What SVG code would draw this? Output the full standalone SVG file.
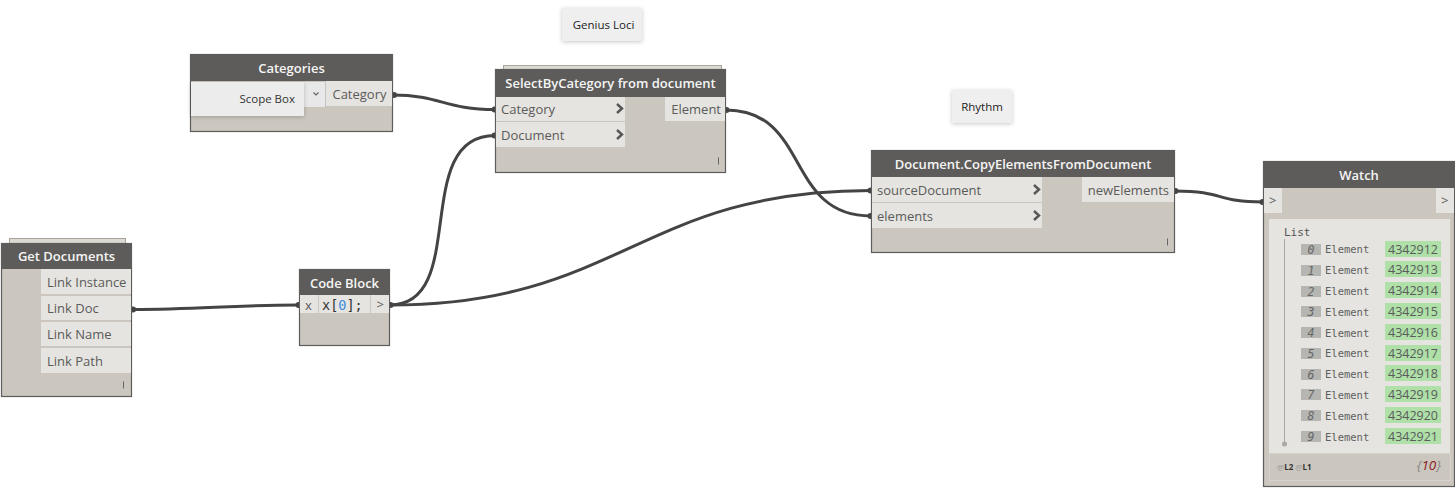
<svg xmlns="http://www.w3.org/2000/svg" width="1455" height="491" viewBox="0 0 1455 491">
<style>
text{font-family:"Open Sans","Liberation Sans",sans-serif}
.body{fill:#cbc6be;stroke:#5e5c5a;stroke-width:1.2}
.stack{fill:#dcd9d3;stroke:#a9a59e;stroke-width:1}
.head{fill:#5e5c5a}
.title{fill:#f5f5f5;font-size:13px;font-weight:600;text-anchor:middle}
.port{fill:#e5e4e0}
.lbl{fill:#5b5b5b;font-size:13px}
.end{text-anchor:end}
.chev{fill:none;stroke:#555;stroke-width:2.4}
.wire{fill:none;stroke:#444;stroke-width:3}
.dot{fill:#444}
.mono{font-family:"DejaVu Sans Mono","Liberation Mono",monospace}
.note{fill:#efefef;filter:url(#sh)}
.idx{fill:#b5b5b1}
.idxt{fill:#666;font-size:11.500px;font-style:italic;text-anchor:middle}
.el{fill:#5f5f5f;font-size:10.500px}
.grn{fill:#aee0a8}
.num{fill:#5b5b5b;font-size:12.500px;text-anchor:middle}
</style>
<defs>
<filter id="sh" x="-20%" y="-20%" width="140%" height="150%"><feDropShadow dx="0" dy="1" stdDeviation="2" flood-color="#000" flood-opacity="0.22"/></filter>
</defs>
<g id="connectors">
<path class="wire" d="M393 95C440 95 445 109.500 495 109.500"/>
<path class="wire" d="M390 305C470 305 410 135.500 495 135.500"/>
<path class="wire" d="M132 309.500C200 309.500 230 305 298 305"/>
<path class="wire" d="M390 305C620 305 640 190.500 871 190.500"/>
<path class="wire" d="M726 110C810 110 785 216 871 216"/>
<path class="wire" d="M1175 191C1225 191 1215 202 1263 202"/>
<circle class="dot" cx="394" cy="95" r="3"/><circle class="dot" cx="494.500" cy="109.500" r="3"/><circle class="dot" cx="494.500" cy="135.500" r="3"/>
<circle class="dot" cx="726.500" cy="110" r="3"/><circle class="dot" cx="133" cy="309.500" r="3"/><circle class="dot" cx="298.500" cy="305" r="3"/>
<circle class="dot" cx="390.500" cy="305" r="3"/><circle class="dot" cx="870.500" cy="190.500" r="3"/><circle class="dot" cx="870.500" cy="216" r="3"/>
<circle class="dot" cx="1175.500" cy="191" r="3"/><circle class="dot" cx="1262.500" cy="202" r="3"/>
</g>
<g id="note-genius-loci"><rect class="note" x="562" y="8" width="80" height="33"/><text x="603.500" y="29" font-size="11.500" fill="#222" text-anchor="middle">Genius Loci</text></g>
<g id="note-rhythm"><rect class="note" x="952" y="90" width="60" height="33"/><text x="982" y="111" font-size="11.500" fill="#222" text-anchor="middle">Rhythm</text></g>
<g id="node-categories">
<rect class="body" x="190.500" y="54.500" width="202" height="77"/>
<rect class="head" x="190" y="54" width="203" height="27"/>
<text class="title" x="291.500" y="73">Categories</text>
<rect x="304" y="82" width="21" height="25" fill="#e8e8e8"/>
<rect x="325" y="81" width="1" height="26" fill="#c4c4c4"/>
<path d="M313.500 92.500l2.500 2.500 2.500-2.500" fill="none" stroke="#666" stroke-width="1.200"/>
<rect class="port" x="326" y="81" width="66" height="25"/>
<text class="lbl end" x="386.500" y="99">Category</text>
<rect x="191" y="82" width="113" height="34" fill="#ececec" filter="url(#sh)"/>
<text x="295" y="103" font-size="11.500" fill="#333" text-anchor="end">Scope Box</text>
</g>
<g id="node-selectbycategory">
<rect class="stack" x="503.500" y="65.500" width="218" height="6"/>
<rect class="body" x="495.500" y="69.500" width="230" height="103"/>
<rect class="head" x="495" y="69" width="231" height="28"/>
<text class="title" x="610.500" y="88">SelectByCategory from document</text>
<rect class="port" x="496" y="97" width="129" height="24"/>
<rect class="port" x="496" y="122" width="129" height="25"/>
<rect class="port" x="665" y="97" width="60" height="24"/>
<text class="lbl" x="501" y="114">Category</text>
<text class="lbl" x="501" y="140">Document</text>
<text class="lbl end" x="721" y="114">Element</text>
<path class="chev" d="M617 104l5 4.500-5 4.500M617 130l5 4.500-5 4.500"/>
<rect x="718" y="157.500" width="1" height="7" fill="#666"/>
</g>
<g id="node-get-documents">
<rect class="stack" x="9.500" y="238.500" width="116" height="6"/>
<rect class="body" x="1.500" y="243.500" width="130" height="153"/>
<rect class="head" x="1" y="243" width="131" height="26"/>
<text class="title" x="66.500" y="261">Get Documents</text>
<rect class="port" x="41" y="269" width="90" height="25"/>
<rect class="port" x="41" y="296" width="90" height="24"/>
<rect class="port" x="41" y="322" width="90" height="24"/>
<rect class="port" x="41" y="348" width="90" height="25"/>
<text class="lbl" x="47" y="287">Link Instance</text>
<text class="lbl" x="47" y="313">Link Doc</text>
<text class="lbl" x="47" y="339">Link Name</text>
<text class="lbl" x="47" y="366">Link Path</text>
<rect x="123" y="381.500" width="1" height="7" fill="#666"/>
</g>
<g id="node-code-block">
<rect class="body" x="299.500" y="269.500" width="90" height="76"/>
<rect class="head" x="299" y="269" width="91" height="26"/>
<text class="title" x="344.500" y="288">Code Block</text>
<rect class="port" x="300" y="295" width="18" height="18"/>
<rect class="port" x="319" y="295" width="51" height="18"/>
<rect class="port" x="371" y="295" width="18" height="18"/>
<text class="lbl" x="305" y="310" font-size="12">x</text>
<text class="mono" x="322" y="310" font-size="13.500" fill="#333">x[<tspan fill="#3c8ce0">0</tspan>];</text>
<text class="lbl" x="376.500" y="309" font-size="11">&gt;</text>
</g>
<g id="node-copy-elements">
<rect class="body" x="871.500" y="150.500" width="303" height="102"/>
<rect class="head" x="871" y="150" width="304" height="27"/>
<text class="title" x="1023" y="169">Document.CopyElementsFromDocument</text>
<rect class="port" x="872" y="177" width="170" height="25"/>
<rect class="port" x="872" y="203" width="170" height="25"/>
<rect class="port" x="1082" y="177" width="92" height="25"/>
<text class="lbl" x="877" y="195">sourceDocument</text>
<text class="lbl" x="877" y="221">elements</text>
<text class="lbl end" x="1169" y="195">newElements</text>
<path class="chev" d="M1034 185l5 4.500-5 4.500M1034 211l5 4.500-5 4.500"/>
<rect x="1167" y="238.500" width="1" height="7" fill="#666"/>
</g>
<g id="node-watch">
<rect class="body" x="1263.500" y="161.500" width="191" height="325"/>
<rect class="head" x="1263" y="161" width="192" height="27"/>
<text class="title" x="1359" y="180">Watch</text>
<rect class="port" x="1264" y="188" width="18" height="25"/>
<rect class="port" x="1436" y="188" width="18" height="25"/>
<text class="lbl" x="1269" y="205" font-size="11">&gt;</text>
<text class="lbl" x="1441" y="205" font-size="11">&gt;</text>
<rect class="port" x="1269" y="219" width="181" height="234"/>
<rect x="1269" y="453" width="181" height="1" fill="#d8d6d1"/>
<rect x="1269.500" y="453.500" width="181" height="27" fill="none" stroke="#d6d3cd"/>
<text class="mono" x="1284" y="236" font-size="11" fill="#555">List</text>
<rect x="1284" y="239" width="1" height="205" fill="#a8a8a4"/>
<circle cx="1284.500" cy="444" r="2.500" fill="#a8a8a4"/>
<rect class="idx" x="1301" y="244" width="20" height="11"/><text class="idxt mono" x="1311" y="253.500">0</text><text class="el mono" x="1325" y="253">Element</text><rect class="grn" x="1385" y="241" width="56" height="16"/><text class="num" x="1413" y="254">4342912</text>
<rect class="idx" x="1301" y="265" width="20" height="11"/><text class="idxt mono" x="1311" y="274.500">1</text><text class="el mono" x="1325" y="274">Element</text><rect class="grn" x="1385" y="261" width="56" height="16"/><text class="num" x="1413" y="274">4342913</text>
<rect class="idx" x="1301" y="286" width="20" height="11"/><text class="idxt mono" x="1311" y="295.500">2</text><text class="el mono" x="1325" y="295">Element</text><rect class="grn" x="1385" y="282" width="56" height="16"/><text class="num" x="1413" y="295">4342914</text>
<rect class="idx" x="1301" y="306" width="20" height="11"/><text class="idxt mono" x="1311" y="316">3</text><text class="el mono" x="1325" y="316">Element</text><rect class="grn" x="1385" y="303" width="56" height="16"/><text class="num" x="1413" y="316">4342915</text>
<rect class="idx" x="1301" y="327" width="20" height="11"/><text class="idxt mono" x="1311" y="337">4</text><text class="el mono" x="1325" y="337">Element</text><rect class="grn" x="1385" y="324" width="56" height="16"/><text class="num" x="1413" y="337">4342916</text>
<rect class="idx" x="1301" y="348" width="20" height="11"/><text class="idxt mono" x="1311" y="357.500">5</text><text class="el mono" x="1325" y="357">Element</text><rect class="grn" x="1385" y="345" width="56" height="16"/><text class="num" x="1413" y="358">4342917</text>
<rect class="idx" x="1301" y="369" width="20" height="11"/><text class="idxt mono" x="1311" y="378.500">6</text><text class="el mono" x="1325" y="378">Element</text><rect class="grn" x="1385" y="365" width="56" height="16"/><text class="num" x="1413" y="378">4342918</text>
<rect class="idx" x="1301" y="389" width="20" height="11"/><text class="idxt mono" x="1311" y="399">7</text><text class="el mono" x="1325" y="399">Element</text><rect class="grn" x="1385" y="386" width="56" height="16"/><text class="num" x="1413" y="399">4342919</text>
<rect class="idx" x="1301" y="410" width="20" height="11"/><text class="idxt mono" x="1311" y="420">8</text><text class="el mono" x="1325" y="420">Element</text><rect class="grn" x="1385" y="407" width="56" height="16"/><text class="num" x="1413" y="420">4342920</text>
<rect class="idx" x="1301" y="431" width="20" height="11"/><text class="idxt mono" x="1311" y="441">9</text><text class="el mono" x="1325" y="441">Element</text><rect class="grn" x="1385" y="428" width="56" height="16"/><text class="num" x="1413" y="441">4342921</text>
<text x="1277" y="470" font-size="8" fill="#999">@<tspan fill="#333" font-weight="700">L2</tspan> @<tspan fill="#333" font-weight="700">L1</tspan></text>
<text x="1441" y="470" font-size="13.500" font-style="italic" fill="#888" text-anchor="end">{<tspan fill="#8b1a1a">10</tspan>}</text>
</g>
</svg>
